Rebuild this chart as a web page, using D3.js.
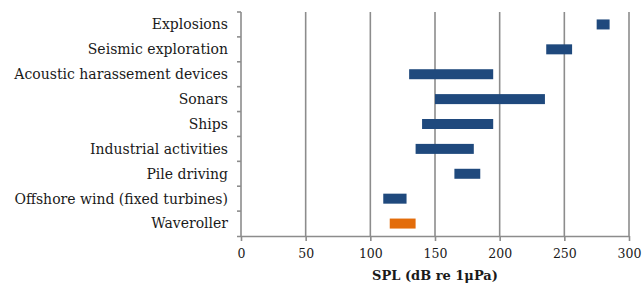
<!DOCTYPE html>
<html lang="en">
<head>
<meta charset="UTF-8">
<title>SPL ranges</title>
<script src="https://d3js.org/d3.v7.min.js"></script>
<style>
  body { margin: 0; background: #fff; }
  text { font-family: "DejaVu Serif", serif; fill: #1a1a1a; }
</style>
</head>
<body>
<div id="chart"></div>
<script>
// sound sources, top to bottom
const categories = ["Explosions", "Seismic exploration", "Acoustic harassement devices", "Sonars", "Ships",
  "Industrial activities", "Pile driving", "Offshore wind (fixed turbines)", "Waveroller"];
const lowValues = [275, 236, 130, 150, 140, 135, 165, 110, 115];
const highValues = [285, 256, 195, 235, 195, 180, 185, 128, 135];
const xTicks = [0, 50, 100, 150, 200, 250, 300];

const width = 642, height = 289;
const margin = { top: 12, right: 13, bottom: 53, left: 241 };

const svg = d3.select("#chart").append("svg")
  .attr("width", width)
  .attr("height", height);

const x = d3.scaleLinear().domain([0, 300]).range([margin.left, width - margin.right]);
const yb = d3.scaleBand().domain(categories).range([margin.top, height - margin.bottom]);

// grid
svg.append("g").selectAll("line")
  .data(xTicks.slice(1))
  .enter().append("line")
  .attr("x1", d => x(d)).attr("x2", d => x(d))
  .attr("y1", margin.top).attr("y2", height - margin.bottom)
  .attr("stroke", "#8c8c8c").attr("stroke-width", 1.6);

// bars
svg.append("g").selectAll("rect")
  .data(categories)
  .enter().append("rect")
  .attr("x", (d, i) => x(lowValues[i]))
  .attr("width", (d, i) => x(highValues[i]) - x(lowValues[i]))
  .attr("y", d => yb(d) + yb.bandwidth() / 2 - 5)
  .attr("height", 10)
  .attr("fill", d => d === "Waveroller" ? "#e36c0a" : "#1f497d");

// x axis
const xAxis = svg.append("g")
  .attr("transform", `translate(0,${height - margin.bottom})`)
  .call(d3.axisBottom(x).tickValues(xTicks).tickSize(5).tickPadding(8));
xAxis.select(".domain").attr("d", `M${margin.left - 4},0.5H${width - margin.right}`);
xAxis.selectAll(".domain, .tick line").attr("stroke", "#8c8c8c").attr("stroke-width", 1.6);
xAxis.selectAll("text").attr("font-size", 12.5).attr("fill", "#1a1a1a").style("font-family", "DejaVu Serif, serif");

// y axis with ticks on category boundaries
const yAxis = svg.append("g").attr("transform", `translate(${margin.left},0)`);
yAxis.append("line")
  .attr("y1", margin.top).attr("y2", height - margin.bottom)
  .attr("stroke", "#8c8c8c").attr("stroke-width", 1.6);
yAxis.selectAll(".bt")
  .data(categories)
  .enter().append("line").attr("class", "bt")
  .attr("x1", -4).attr("x2", 0)
  .attr("y1", d => yb(d)).attr("y2", d => yb(d))
  .attr("stroke", "#8c8c8c").attr("stroke-width", 1.6);
yAxis.selectAll("text")
  .data(categories)
  .enter().append("text")
  .attr("x", -13)
  .attr("y", d => yb(d) + yb.bandwidth() / 2)
  .attr("dy", "0.35em")
  .attr("text-anchor", "end")
  .attr("font-size", 14)
  .text(d => d);

// axis title
svg.append("text")
  .attr("x", (margin.left + width - margin.right) / 2)
  .attr("y", 280)
  .attr("text-anchor", "middle")
  .attr("font-size", 13)
  .attr("font-weight", "bold")
  .text("SPL (dB re 1μPa)");
</script>
</body>
</html>
